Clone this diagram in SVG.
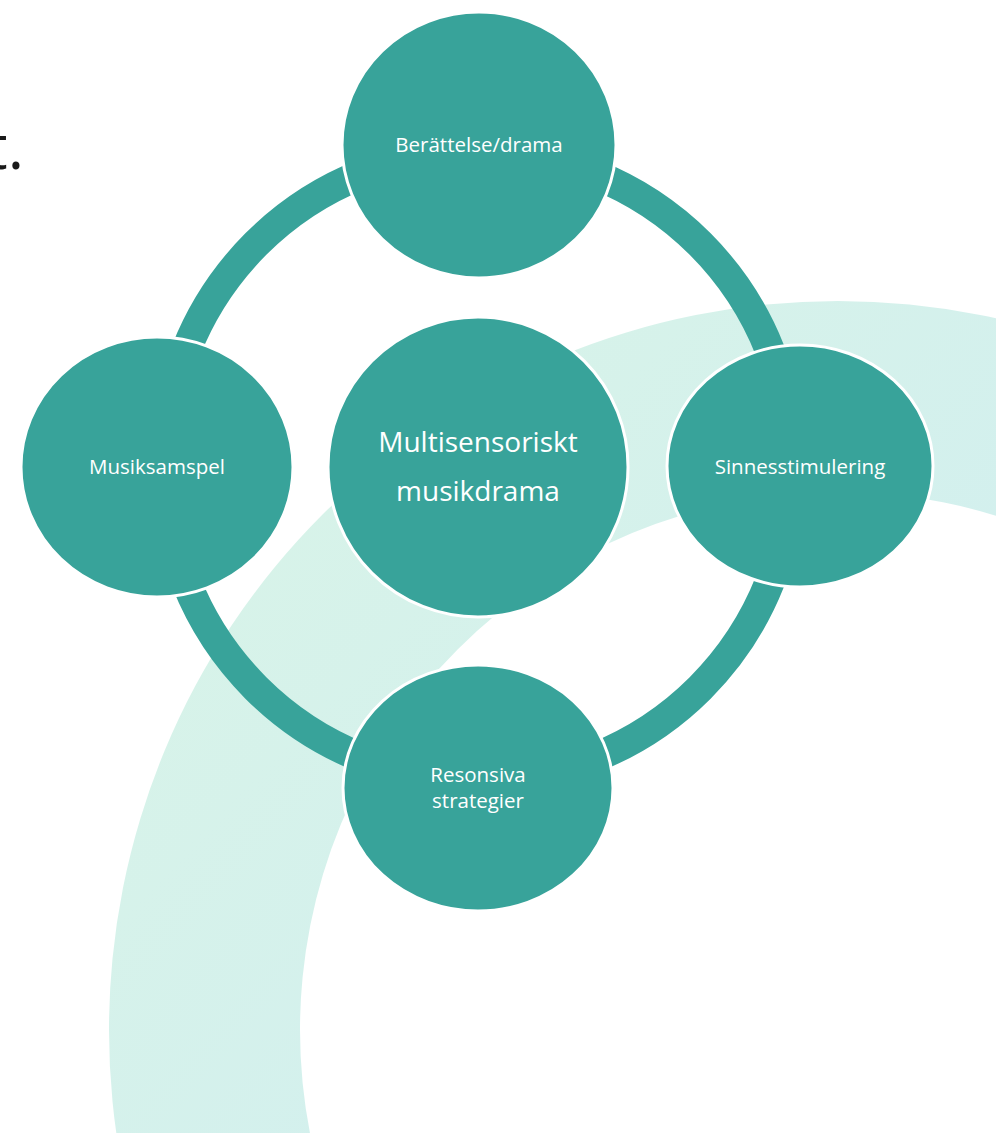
<svg xmlns="http://www.w3.org/2000/svg" width="996" height="1133" viewBox="0 0 996 1133">
<defs>
<linearGradient id="bgGrad" gradientUnits="userSpaceOnUse" x1="150" y1="350" x2="950" y2="1100">
<stop offset="0" stop-color="#d9f4e7"/>
<stop offset="1" stop-color="#d0eef1"/>
</linearGradient>
<style>
.node{fill:#38a39a;stroke:#ffffff;stroke-width:3}
.lbl{font-family:"Open Sans","Liberation Sans",sans-serif;fill:#ffffff;text-anchor:middle}
.small{font-size:20.5px}
.big{font-size:28px}
</style>
</defs>
<rect width="996" height="1133" fill="#ffffff"/>
<path d="M 109 1030 A 729 729 0 1 1 1567 1030 A 729 729 0 1 1 109 1030 Z M 300 1030 A 538 538 0 1 0 1376 1030 A 538 538 0 1 0 300 1030 Z" fill="url(#bgGrad)" fill-rule="evenodd"/>
<text x="24" y="169" font-family="'Open Sans','Liberation Sans',sans-serif" font-size="62" fill="#1a1a1a" text-anchor="end">t.</text>
<g id="connectors">
<circle cx="478" cy="466" r="314" fill="none" stroke="#38a39a" stroke-width="30"/>
</g>
<g id="node-center">
<ellipse class="node" cx="478" cy="467" rx="150" ry="150"/>
<text class="lbl big" x="478" y="452">Multisensoriskt</text>
<text class="lbl big" x="478" y="501">musikdrama</text>
</g>
<g id="node-top">
<ellipse class="node" cx="479" cy="145" rx="137" ry="133"/>
<text class="lbl small" x="479" y="152">Berättelse/drama</text>
</g>
<g id="node-right">
<ellipse class="node" cx="800" cy="466" rx="133" ry="121"/>
<text class="lbl small" x="800" y="474">Sinnesstimulering</text>
</g>
<g id="node-bottom">
<ellipse class="node" cx="478" cy="788" rx="135" ry="123"/>
<text class="lbl small" x="478" y="782">Resonsiva</text>
<text class="lbl small" x="478" y="808">strategier</text>
</g>
<g id="node-left">
<ellipse class="node" cx="157" cy="467" rx="136" ry="130"/>
<text class="lbl small" x="157" y="474">Musiksamspel</text>
</g>
</svg>
